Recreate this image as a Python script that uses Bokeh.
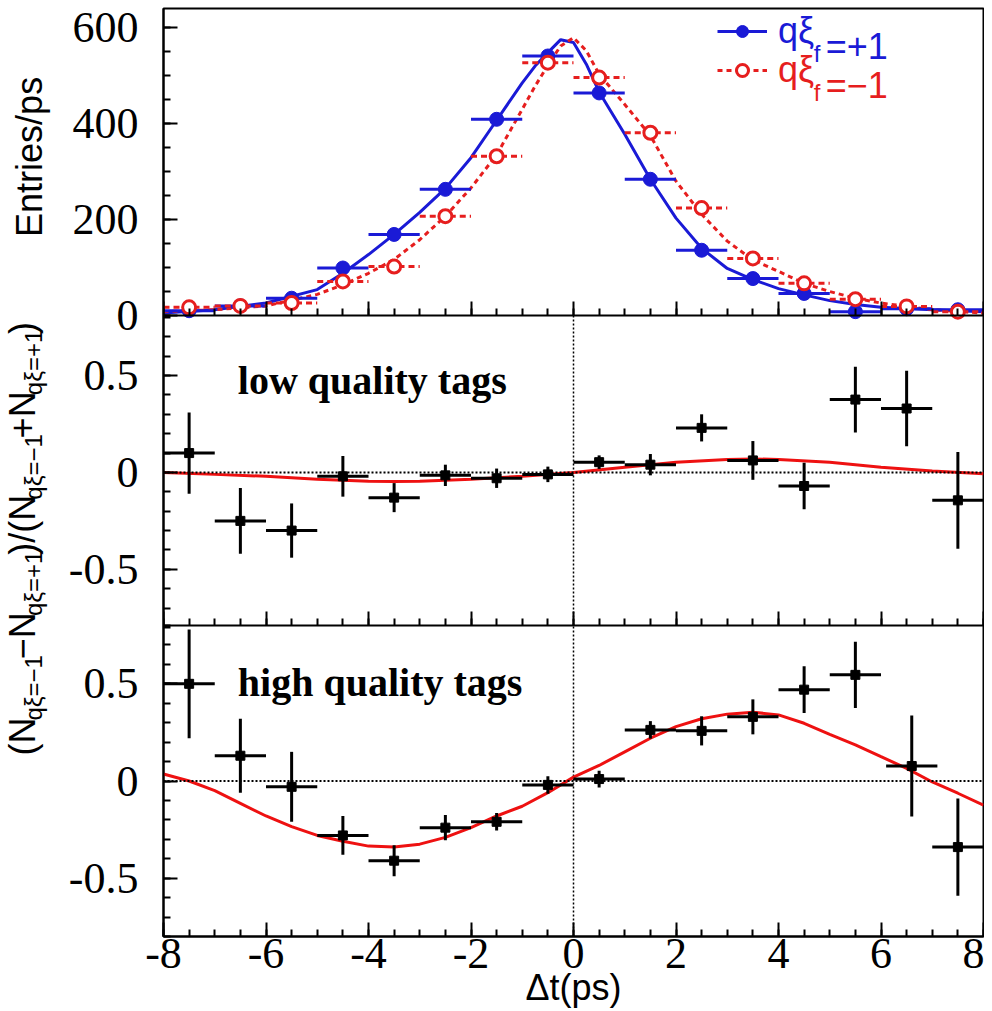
import math
from bokeh.plotting import figure
from bokeh.models import (Range1d, FixedTicker, Span, Label, Legend, LegendItem, LinearAxis)
from bokeh.layouts import row
from bokeh.embed import file_html
from bokeh.resources import INLINE

# ---------------- data ----------------
bin_centers = [-7.5, -6.5, -5.5, -4.5, -3.5, -2.5, -1.5, -0.5,
               0.5, 1.5, 2.5, 3.5, 4.5, 5.5, 6.5, 7.5]
bin_half_width = 0.5

entries_plus = [10, 20, 36, 99, 169, 263, 409, 541, 464, 284, 136, 77, 46, 8, 14, 12]
entries_minus = [17, 20, 26, 71, 102, 207, 332, 527, 496, 381, 224, 119, 67, 34, 19, 8]

fit_x = [-8, -7, -6, -5, -4.5, -4, -3.5, -3, -2.5, -2, -1.5, -1, -0.75, -0.5, -0.25,
         0, 0.25, 0.5, 1, 1.5, 2, 2.5, 3, 3.5, 4, 4.5, 5, 5.5, 6, 7, 8]
fit_plus = [5, 12, 26, 54, 88, 127, 169, 215, 265, 329, 407, 485, 520, 548, 575,
            569, 524, 466, 378, 284, 203, 140, 98, 75, 56, 43, 31, 23, 17, 12, 8]
fit_minus = [8, 12, 20, 44, 64, 88, 117, 158, 207, 266, 335, 430, 478, 522, 562,
             579, 552, 503, 440, 375, 280, 211, 155, 116, 92, 67, 50, 36, 26, 12, 5]

low_x = [-7.5, -6.5, -5.5, -4.5, -3.5, -2.5, -1.5, -0.5,
         0.5, 1.5, 2.5, 3.5, 4.5, 5.5, 6.5, 7.5]
low_asym = [0.10, -0.25, -0.30, -0.02, -0.13, -0.015, -0.03, -0.01,
            0.053, 0.04, 0.23, 0.062, -0.07, 0.376, 0.33, -0.144]
low_err = [0.21, 0.17, 0.14, 0.105, 0.075, 0.055, 0.05, 0.04,
           0.035, 0.055, 0.07, 0.10, 0.12, 0.17, 0.195, 0.25]
low_fit_x = [-8, -7, -6, -5, -4, -3.5, -3, -2, -1, 0, 1, 1.5, 2, 3, 3.5, 4, 5, 6, 7, 8]
low_fit_y = [0.0, -0.01, -0.02, -0.035, -0.045, -0.047, -0.045, -0.035, -0.02, 0.0,
             0.027, 0.04, 0.053, 0.067, 0.07, 0.067, 0.053, 0.027, 0.007, -0.007]

high_x = [-7.5, -6.5, -5.5, -4.5, -3.5, -2.5, -1.5, -0.5,
          0.5, 1.5, 2.5, 3.5, 4.5, 5.5, 6.6, 7.5]
high_asym = [0.50, 0.13, -0.03, -0.28, -0.41, -0.24, -0.21, -0.02,
             0.01, 0.263, 0.258, 0.33, 0.47, 0.546, 0.077, -0.34]
high_err = [0.28, 0.19, 0.18, 0.10, 0.08, 0.065, 0.045, 0.045,
            0.043, 0.045, 0.075, 0.09, 0.12, 0.17, 0.26, 0.25]
high_fit_x = [-8, -7.5, -7, -6.5, -6, -5.5, -5, -4.5, -4, -3.5, -3, -2.5, -2, -1.5, -1,
              -0.5, 0, 0.5, 1, 1.5, 2, 2.5, 3, 3.5, 4, 4.5, 5, 5.5, 6, 6.5, 7, 7.5, 8]
high_fit_y = [0.036, 0.0, -0.05, -0.115, -0.18, -0.235, -0.28, -0.31, -0.335, -0.34,
              -0.325, -0.29, -0.24, -0.18, -0.13, -0.06, 0.02, 0.08, 0.15, 0.22, 0.28,
              0.32, 0.344, 0.354, 0.34, 0.297, 0.24, 0.186, 0.125, 0.065, -0.005,
              -0.063, -0.124]

x_ticks = [-8, -6, -4, -2, 0, 2, 4, 6, 8]
x_tick_labels = ["-8", "-6", "-4", "-2", "0", "2", "4", "6", "8"]
x_minor = [-8 + 0.5 * i for i in range(33)]
count_ticks = [0, 200, 400, 600]
count_tick_labels = ["0", "200", "400", "600"]
count_minor = [50 * i for i in range(13)]
asym_ticks = [-0.5, 0, 0.5]
asym_tick_labels = ["-0.5", "0", "0.5"]
asym_minor = [round(-0.8 + 0.1 * i, 2) for i in range(17)]

# panel value ranges
count_lo, count_hi = 0, 640
low_lo, low_hi = -0.79, 0.81
high_lo, high_hi = -0.8, 0.8

# ---------------- layout (pixels) ----------------
BLUE = "#1a1ad6"
RED = "#e61e1e"
FIT_RED = "#ee1111"
TOTAL_H = 1010
LW = 56                       # left strip holding the rotated titles
FL, FR, FT, FB = 163, 1, 8, 74
TOP_F, MID_F, BOT_F = 307, 310, 311
FRAME_H = TOP_F + MID_F + BOT_F
FRAME_W = 820
TICK_FONT = "Liberation Serif"
TICK_SIZE = "44px"

# panel placement: (value range, pixels of frame below the panel, panel height)
PANELS = {
    "count": (count_lo, count_hi, BOT_F + MID_F, TOP_F),
    "low": (low_lo, low_hi, BOT_F, MID_F),
    "default": (high_lo, high_hi, 0, BOT_F),
}


def panel_range(name):
    lo, hi, below, h = PANELS[name]
    per_px = (hi - lo) / h
    return Range1d(lo - below * per_px, lo + (FRAME_H - below) * per_px)


def on_high_axis(name, v):
    """position of panel value v expressed on the bottom panel's (default) range"""
    lo, hi, below, h = PANELS[name]
    pix = below + (v - lo) / (hi - lo) * h
    return high_lo + pix * (high_hi - high_lo) / BOT_F


p = figure(frame_width=FRAME_W, frame_height=FRAME_H, x_range=Range1d(-8, 8),
           y_range=panel_range("default"), toolbar_location=None, output_backend="svg",
           min_border_left=FL - LW, min_border_right=FR, min_border_top=FT, min_border_bottom=FB)
p.extra_y_ranges = {"low": panel_range("low"), "count": panel_range("count")}
p.grid.visible = False
p.outline_line_color = "black"
p.outline_line_width = 2


def tick_style(ax):
    ax.axis_line_width = 2
    ax.axis_line_color = "black"
    ax.major_tick_out = 0
    ax.minor_tick_out = 0
    ax.major_tick_in = 14
    ax.minor_tick_in = 7
    ax.major_tick_line_width = 2
    ax.minor_tick_line_width = 2
    ax.major_label_text_font = TICK_FONT
    ax.major_label_text_font_size = TICK_SIZE
    ax.major_label_text_color = "black"


# bottom x axis with labels
xa = p.xaxis[0]
tick_style(xa)
xa.ticker = FixedTicker(ticks=x_ticks, minor_ticks=x_minor)
xa.major_label_overrides = dict(zip(x_ticks, x_tick_labels))
xa.major_label_standoff = 2
xa.axis_label = "Δt(ps)"
xa.axis_label_text_font = "Liberation Sans"
xa.axis_label_text_font_size = "36px"
xa.axis_label_text_font_style = "normal"
xa.axis_label_text_color = "black"
xa.axis_label_standoff = -4

# x ticks along the two inner panel borders
for rname, loc in (("count", count_lo), ("default", high_hi)):
    ax = LinearAxis(y_range_name=rname, fixed_location=loc,
                    ticker=FixedTicker(ticks=x_ticks, minor_ticks=x_minor),
                    major_label_overrides={t: "" for t in x_ticks})
    tick_style(ax)
    ax.major_label_text_font_size = "0px"
    ax.major_label_standoff = 0
    p.add_layout(ax, "below")

# one left axis carrying the ticks and labels of all three panels
ya = p.yaxis[0]
tick_style(ya)
major, minor, overrides = [], [], {}
for name, ticks, labels, mticks in (("count", count_ticks, count_tick_labels, count_minor),
                                    ("low", asym_ticks, asym_tick_labels, asym_minor),
                                    ("default", asym_ticks, asym_tick_labels, asym_minor)):
    for t, lab in zip(ticks, labels):
        pos = on_high_axis(name, t)
        major.append(pos)
        overrides[pos] = lab
    minor += [on_high_axis(name, m) for m in mticks]
ya.ticker = FixedTicker(ticks=major, minor_ticks=minor)
ya.major_label_overrides = overrides
ya.major_label_standoff = 25


def errbars(xs, ys, errs, color, rname, dash="solid"):
    p.segment(x0=[x - bin_half_width for x in xs], x1=[x + bin_half_width for x in xs],
              y0=ys, y1=ys, line_color=color, line_width=3, line_dash=dash, y_range_name=rname)
    if errs is not None:
        p.segment(x0=xs, x1=xs, y0=[y - e for y, e in zip(ys, errs)],
                  y1=[y + e for y, e in zip(ys, errs)], line_color=color, line_width=3,
                  y_range_name=rname)


# ---------------- top panel ----------------
bl = p.line(fit_x, fit_plus, line_color=BLUE, line_width=3, y_range_name="count")
rl = p.line(fit_x, fit_minus, line_color=RED, line_width=3, line_dash="5 4", y_range_name="count")
errbars(bin_centers, entries_plus, None, BLUE, "count")
errbars(bin_centers, entries_minus, None, RED, "count", dash="6 4")
bp = p.scatter(bin_centers, entries_plus, marker="circle", size=14, fill_color=BLUE,
               line_color=BLUE, y_range_name="count")
rp = p.scatter(bin_centers, entries_minus, marker="circle", size=13, fill_color="white",
               line_color=RED, line_width=3, y_range_name="count")

for items, color, loc in (([bl, bp], BLUE, (554, 884)), ([rl, rp], RED, (554, 845))):
    lg = Legend(items=[LegendItem(label="qξ", renderers=items)], location=loc,
                border_line_color=None, background_fill_alpha=0, padding=0, margin=0,
                spacing=0, glyph_width=50, glyph_height=30, label_height=39, label_standoff=11,
                label_text_font="Liberation Sans", label_text_font_size="36px",
                label_text_color=color)
    p.add_layout(lg)

for txt, sz, xx, yy, color in (("f", "24px", 4.69, 546, BLUE), ("=+1", "36px", 4.92, 561, BLUE),
                               ("f", "24px", 4.69, 465, RED), ("=−1", "36px", 4.92, 480, RED)):
    p.add_layout(Label(x=xx, y=yy, text=txt, text_font="Liberation Sans", text_font_size=sz,
                       text_color=color, text_align="left", text_baseline="alphabetic",
                       y_range_name="count"))

# ---------------- asymmetry panels ----------------
for rname, fx, fy, xs, ys, es, txt, ty in (
        ("low", low_fit_x, low_fit_y, low_x, low_asym, low_err, "low quality tags", 0.475),
        ("default", high_fit_x, high_fit_y, high_x, high_asym, high_err, "high quality tags", 0.507)):
    lo, hi = PANELS[rname][0], PANELS[rname][1]
    p.add_layout(Span(location=0, dimension="width", line_color="black", line_width=2,
                      line_dash="2 2", y_range_name=rname))
    p.segment(x0=[0], x1=[0], y0=[lo], y1=[hi], line_color="black", line_width=1.5,
              line_dash="2 2", y_range_name=rname)
    p.line(fx, fy, line_color=FIT_RED, line_width=3, y_range_name=rname)
    errbars(xs, ys, es, "black", rname)
    p.scatter(xs, ys, marker="square", size=9, color="black", y_range_name=rname)
    p.add_layout(Label(x=-6.55, y=ty, text=txt, text_font="Liberation Serif", text_font_style="bold",
                       text_font_size="40px", text_color="black", text_baseline="alphabetic",
                       y_range_name=rname))

# ---------------- left strip with the rotated titles (1 unit = 1 pixel) ----------------
pl = figure(width=LW, height=TOTAL_H, x_range=Range1d(0, LW), y_range=Range1d(0, TOTAL_H),
            x_axis_location=None, y_axis_location=None, toolbar_location=None,
            output_backend="svg", min_border=0, outline_line_color=None)
pl.grid.visible = False

pl.add_layout(Label(x=29, y=TOTAL_H - 161.5, text="Entries/ps", angle=math.pi / 2,
                    text_align="center", text_baseline="middle", text_font="Liberation Sans",
                    text_font_size="36px", text_color="black"))

BIG, SUB = 36, 24
adv = {"(": .333, ")": .333, "/": .278, "N": .722, "q": .556, "ξ": .5, "=": .584,
       "−": .584, "+": .584, "1": .556}
pieces = [("(N", BIG), ("qξ=−1", SUB), ("−N", BIG), ("qξ=+1", SUB), (")/(N", BIG),
          ("qξ=−1", SUB), ("+N", BIG), ("qξ=+1", SUB), (")", BIG)]
ypos = TOTAL_H - 813.0
for txt, sz in pieces:
    xb = 22 if sz == BIG else 33
    pl.add_layout(Label(x=xb, y=ypos, text=txt, angle=math.pi / 2, text_align="left",
                        text_baseline="middle", text_font="Liberation Sans",
                        text_font_size=f"{sz}px", text_color="black"))
    ypos += sum(adv.get(c, .55) for c in txt) * sz

open("out.html", "w").write(file_html(row(pl, p), INLINE))
